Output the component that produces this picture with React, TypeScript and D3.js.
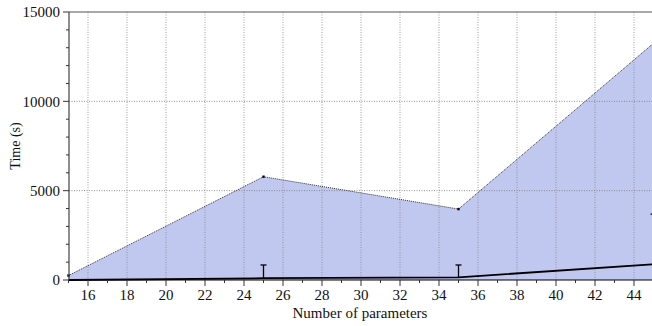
import React from "react";
import * as d3 from "d3";

const params = [15, 25, 35, 45];
const upperTimes = [250, 5780, 3970, 13250];
const meanTimes = [0, 100, 150, 880];
const errTop = [null, 840, 840, 3690];
const xTicks = [16, 18, 20, 22, 24, 26, 28, 30, 32, 34, 36, 38, 40, 42, 44];
const yTicks = [0, 5000, 10000, 15000];

const W = 652, H = 326;
const L = 69, T = 12, B = 280;
const FONT = "'Liberation Serif', 'Times New Roman', Times, 'DejaVu Serif', serif";

export default function App() {
  const x = d3.scaleLinear().domain([15, 45]).range([68.5, 653.5]);
  const y = d3.scaleLinear().domain([0, 15000]).range([B, T]);
  const area = d3.area<number>().x((_, i) => x(params[i])).y0(y(0)).y1((d) => y(d));
  const line = d3.line<number>().x((_, i) => x(params[i])).y((d) => y(d));
  const xMinor = d3.range(15, 46, 1).filter((v) => v % 2 === 1);
  const yMinor = d3.range(0, 15001, 1000).filter((v) => v % 5000 !== 0);
  const ts = { fontFamily: FONT } as React.CSSProperties;
  return (
    <svg width={W} height={H} style={{ position: "fixed", left: 0, top: 0, background: "#fff" }}>
      <path d={area(upperTimes) || ""} fill="rgb(192,200,240)" />
      {xTicks.map((t) => (
        <line key={"gx" + t} x1={x(t)} x2={x(t)} y1={T} y2={B} stroke="#888" strokeOpacity={0.8} strokeWidth={1} strokeDasharray="1,1.5" />
      ))}
      {yTicks.filter((t) => t > 0 && t < 15000).map((t) => (
        <line key={"gy" + t} x1={L} x2={W} y1={y(t)} y2={y(t)} stroke="#777" strokeOpacity={0.8} strokeWidth={1} strokeDasharray="1,1.5" />
      ))}
      <path d={line(upperTimes) || ""} fill="none" stroke="#333" strokeWidth={1} strokeDasharray="1,1" />
      {upperTimes.map((v, i) => (
        <rect key={"m" + i} x={x(params[i]) - 1.2} y={y(v) - 1.2} width={2.4} height={2.4} fill="#000" />
      ))}
      {errTop.map((v, i) =>
        v == null ? null : (
          <g key={"e" + i}>
            <line x1={x(params[i])} x2={x(params[i])} y1={y(meanTimes[i])} y2={y(v)} stroke="#000" strokeWidth={1.3} />
            <line x1={x(params[i]) - 3} x2={x(params[i]) + 3} y1={y(v)} y2={y(v)} stroke="#000" strokeWidth={1.3} />
          </g>
        )
      )}
      <path d={line(meanTimes) || ""} fill="none" stroke="#000" strokeWidth={1.8} />
      <line x1={L} x2={W} y1={T} y2={T} stroke="#555" strokeWidth={1.2} />
      <line x1={L} x2={L} y1={T} y2={B} stroke="#444" strokeWidth={1.2} />
      <line x1={L} x2={W} y1={B} y2={B} stroke="#000" strokeWidth={1.2} />
      {yTicks.map((t) => (
        <g key={"yt" + t}>
          <line x1={L - 6} x2={L} y1={y(t)} y2={y(t)} stroke="#333" strokeWidth={1} />
          <text style={ts} x={L - 9} y={y(t)} dy="0.35em" textAnchor="end" fontSize={15} fill="#111">{t}</text>
        </g>
      ))}
      {yMinor.map((t) => (
        <line key={"ym" + t} x1={L - 3} x2={L} y1={y(t)} y2={y(t)} stroke="#333" strokeWidth={1} />
      ))}
      {xTicks.map((t) => (
        <g key={"xt" + t}>
          <line x1={x(t)} x2={x(t)} y1={B} y2={B + 6} stroke="#333" strokeWidth={1} />
          <text style={ts} x={x(t)} y={B + 9} dy="0.75em" textAnchor="middle" fontSize={15} fill="#111">{t}</text>
        </g>
      ))}
      {xMinor.map((t) => (
        <line key={"xm" + t} x1={x(t)} x2={x(t)} y1={B} y2={B + 3} stroke="#333" strokeWidth={1} />
      ))}
      <text style={ts} x={360} y={318} textAnchor="middle" fontSize={15} fill="#111">Number of parameters</text>
      <text style={ts} transform="translate(20,146) rotate(-90)" textAnchor="middle" fontSize={14} fill="#111">Time (s)</text>
    </svg>
  );
}
